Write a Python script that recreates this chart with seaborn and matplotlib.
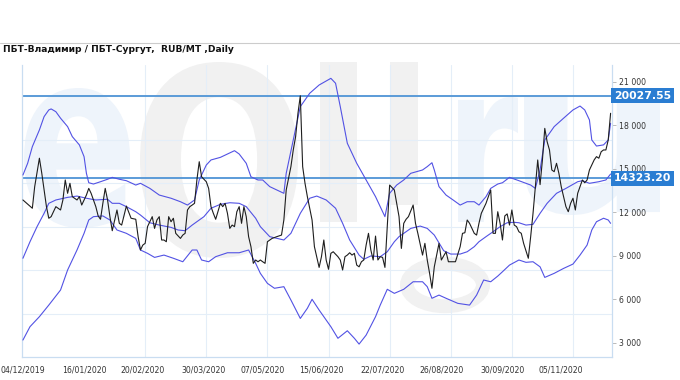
import matplotlib
matplotlib.use("Agg")
import matplotlib.pyplot as plt
import seaborn as sns
import pandas as pd
from matplotlib.ticker import FixedLocator, FuncFormatter
from matplotlib.textpath import TextPath
from matplotlib.patches import PathPatch, Rectangle, Circle
from matplotlib.font_manager import FontProperties
from matplotlib.transforms import Affine2D

# ------------------------------------------------------------------
# datos (día = índice de sesión)
# ------------------------------------------------------------------
TITLE = "ПБТ-Владимир / ПБТ-Сургут,  RUB/MT ,Daily"

price_day = [0, 2, 3, 4, 5, 7, 8, 10, 11, 12, 13, 14, 16, 17, 18, 19, 20, 21, 23, 24,
             25, 26, 27, 28, 29, 30, 31, 32, 33, 34, 35, 36, 37, 38, 40, 41, 42, 44, 46, 48,
             49, 50, 51, 52, 53, 55, 56, 57, 58, 59, 60, 61, 62, 63, 64, 65, 67, 68, 69, 70,
             71, 72, 73, 74, 75, 76, 78, 79, 80, 81, 82, 84, 85, 86, 87, 88, 89, 90, 91, 92,
             93, 94, 95, 96, 97, 98, 99, 100, 101, 102, 103, 104, 106, 108, 110, 111, 112, 114, 115, 116,
             117, 118, 119, 120, 121, 123, 124, 126, 127, 128, 129, 130, 131, 132, 134, 135, 136, 137, 138, 139,
             140, 141, 142, 143, 144, 145, 146, 147, 148, 149, 150, 151, 152, 153, 154, 155, 156, 158, 159, 160,
             161, 162, 163, 164, 166, 167, 168, 170, 171, 172, 173, 174, 175, 177, 178, 180, 181, 183, 184, 186,
             187, 188, 189, 190, 192, 193, 194, 195, 197, 198, 199, 200, 201, 202, 203, 204, 205, 206, 207, 208,
             209, 210, 211, 212, 213, 215, 216, 217, 218, 219, 220, 221, 222, 223, 224, 225, 226, 227, 228, 229,
             230, 231, 232, 233, 234, 235, 236, 237, 238, 239, 240, 241, 243, 244, 245, 246, 247, 248, 249, 250]
price_val = [12840, 12560, 12420, 12270, 13760, 15720, 14700, 12380, 11580, 11690, 12030, 12380, 12150, 12840, 14220, 13300, 13990, 13070, 12840, 13070,
             12490, 12840, 13180, 13640, 13300, 12840, 12380, 11740, 11510, 12610, 13640, 12840, 11690, 10720, 12150, 11230, 11110, 12420, 11580, 11510,
             10310, 9390, 9730, 9850, 11000, 11690, 10880, 11460, 11690, 10080, 10080, 9960, 11690, 11340, 11580, 10540, 10190, 10420, 10540, 12150,
             12380, 12490, 12610, 14220, 15480, 14440, 14100, 13640, 12380, 11920, 11510, 12610, 12380, 12610, 11920, 10880, 11110, 11000, 12030, 12380,
             11230, 12380, 11690, 10310, 9620, 8470, 8700, 8580, 8700, 8580, 8470, 9960, 10190, 10310, 10420, 11460, 13530, 15140, 16290, 17210,
             18820, 20027, 15140, 13990, 13070, 11460, 9620, 8190, 8930, 10080, 8700, 8060, 9160, 9270, 8930, 8700, 8010, 8930, 9040, 9200,
             9040, 9160, 8350, 8230, 8580, 8700, 9730, 10540, 9390, 8700, 10350, 8700, 8930, 8880, 8190, 11000, 13870, 13530, 12610, 11690,
             9500, 11230, 11510, 11690, 12490, 11230, 10540, 9040, 9850, 8700, 7780, 6750, 8230, 9850, 8700, 9270, 8580, 8580, 8580, 9620,
             10540, 10580, 11460, 11230, 10540, 10420, 11230, 11920, 12610, 13070, 13530, 10540, 10540, 12030, 11230, 10080, 11740, 11880, 11110, 12150,
             11110, 11000, 10650, 10540, 9850, 8820, 10310, 11920, 13760, 15600, 13900, 15600, 17780, 16860, 16290, 14910, 14790, 15370, 14680, 13760,
             13070, 12380, 12030, 12610, 12960, 12150, 13300, 13760, 14220, 14030, 14220, 14910, 15600, 15830, 15720, 16170, 16290, 16290, 16980, 18820]

upper_day = [0, 2, 4, 7, 9, 11, 12, 14, 16, 19, 21, 24, 26, 27, 28, 30, 33, 36, 38, 41,
             44, 48, 50, 54, 58, 63, 67, 70, 73, 75, 78, 80, 84, 87, 90, 92, 95, 97, 100, 102,
             105, 111, 112, 115, 118, 122, 126, 131, 133, 135, 138, 142, 146, 150, 152, 154, 156, 159, 162, 165,
             170, 172, 174, 175, 177, 180, 183, 186, 189, 192, 194, 197, 199, 202, 204, 207, 211, 216, 218, 220,
             222, 226, 230, 234, 237, 239, 241, 242, 244, 247, 249, 250]
upper_val = [14560, 15370, 16520, 17670, 18590, 19050, 19120, 18930, 18480, 17900, 17210, 16640, 15830, 14680, 14030, 13940, 14100, 14270, 14400, 14270,
             14170, 13870, 13990, 13640, 13180, 12960, 12720, 12490, 12840, 14220, 15250, 15600, 15780, 16010, 16240, 16010, 15370, 14440, 14220, 14220,
             13760, 13300, 14680, 16980, 19280, 20200, 20770, 21230, 20890, 19280, 16750, 15370, 14220, 13070, 12380, 11690, 13300, 13870, 14220, 14680,
             14910, 15140, 15410, 14910, 13760, 13180, 12840, 12490, 12720, 12720, 12490, 13070, 13640, 13940, 14030, 14400, 14170, 13870, 13640, 14910,
             16980, 17900, 18480, 19050, 19320, 19050, 18360, 16980, 16560, 16640, 16980, 18130]

mid_day = [0, 3, 6, 9, 11, 14, 19, 23, 27, 31, 36, 38, 41, 44, 48, 50, 54, 58, 63, 66,
           69, 72, 77, 80, 84, 88, 92, 95, 99, 101, 105, 111, 114, 118, 122, 125, 129, 133, 136, 139,
           143, 145, 148, 152, 155, 158, 160, 165, 169, 172, 175, 179, 182, 186, 189, 192, 194, 197, 200, 203,
           206, 209, 211, 214, 217, 220, 223, 227, 231, 236, 238, 241, 245, 248, 250]
mid_val = [8820, 9960, 11000, 11920, 12610, 12840, 13020, 13110, 12960, 12840, 12890, 12610, 12610, 12380, 12030, 11800, 11270, 11110, 10950, 10770,
           10720, 11110, 11690, 12270, 12540, 12650, 12610, 12380, 11580, 11000, 10310, 10080, 10540, 11920, 12960, 13110, 12840, 12270, 11230, 10080,
           9040, 8750, 8980, 8930, 9270, 9960, 10310, 10880, 11040, 10880, 10420, 9340, 9110, 9110, 9270, 9620, 9960, 10310, 10650, 11000,
           11270, 11300, 11270, 11110, 11160, 11920, 12610, 13300, 13640, 14100, 14170, 13990, 14100, 14220, 14630]

lower_day = [0, 3, 7, 11, 16, 19, 23, 26, 28, 30, 34, 37, 40, 44, 48, 50, 53, 56, 60, 64,
             68, 72, 74, 76, 79, 82, 87, 92, 96, 99, 101, 104, 107, 111, 114, 118, 121, 123, 126, 131,
             134, 138, 141, 143, 146, 150, 152, 155, 158, 162, 166, 170, 172, 174, 177, 180, 185, 190, 193, 196,
             199, 202, 204, 207, 211, 214, 217, 220, 222, 226, 230, 234, 237, 240, 242, 244, 247, 249, 250]
lower_val = [3180, 4100, 4790, 5590, 6630, 8010, 9390, 10540, 11460, 11690, 11740, 11460, 10770, 10540, 10190, 9390, 9160, 8880, 9040, 8820,
             8580, 9390, 9390, 8700, 8580, 8930, 9200, 9200, 9390, 8470, 7780, 7090, 6750, 6860, 5940, 4670, 5370, 5990, 5250, 4100,
             3300, 3820, 3300, 2900, 3520, 4790, 5590, 6680, 6400, 6680, 7200, 7200, 6860, 6060, 6280, 6060, 5710, 5590, 6280, 7320,
             7200, 7590, 7890, 8350, 8700, 8540, 8580, 8230, 7500, 7780, 8120, 8420, 9040, 9730, 10770, 11340, 11580, 11460, 11230]

level_high = 20027.55
level_low = 14323.20

tick_days = [0, 26, 51, 77, 102, 127, 153, 178, 204, 229]
tick_dates = ["04/12/2019", "16/01/2020", "20/02/2020", "30/03/2020", "07/05/2020",
              "15/06/2020", "22/07/2020", "26/08/2020", "30/09/2020", "05/11/2020"]
grid_days = [26, 52, 78, 104, 130, 156, 182, 208, 234]
y_ticks = [3000, 6000, 9000, 12000, 15000, 18000, 21000]
y_grid = [5000, 8000, 11000, 14000, 17000, 20000]

# ------------------------------------------------------------------
# estilo
# ------------------------------------------------------------------
COLOR_BAND = '#5252e4'
COLOR_PRICE = '#1e1e1e'
COLOR_LEVEL = '#5b9bd8'
COLOR_BOX = '#2a7dd2'
COLOR_GRID = '#e4eef8'
COLOR_AXIS = '#c9ddf1'
WM_BLUE = '#eef4fb'
WM_GREY = '#f1f1f1'

sns.set_theme(style="white")
plt.rcParams['font.family'] = ['DejaVu Sans']

W, H = 680, 380
fig = plt.figure(figsize=(6.8, 3.8), dpi=100)
ax = fig.add_axes([22 / W, 23 / H, 590 / W, 292 / H])
ax.patch.set_alpha(0)


# marca de agua "eOil.ru" (formas de fondo, en píxeles desde arriba-izquierda)
def marca(ch, x0, y0, x1, y1, color):
    tp = TextPath((0, 0), ch, size=1, prop=FontProperties(family='DejaVu Sans', weight='bold'))
    b = tp.get_extents()
    tr = (Affine2D().translate(-b.x0, -b.y0)
          .scale((x1 - x0) / b.width / W, (y1 - y0) / b.height / H)
          .translate(x0 / W, 1 - y1 / H) + fig.transFigure)
    fig.add_artist(PathPatch(tp, transform=tr, fc=color, ec='none', zorder=-1))


marca("e", 24, 88, 130, 228, WM_BLUE)
marca("O", 140, 62, 298, 258, WM_GREY)
fig.add_artist(Rectangle((320 / W, 1 - 222 / H), 37 / W, 160 / H, transform=fig.transFigure,
                         fc=WM_GREY, ec='none', zorder=-1))
fig.add_artist(Rectangle((390 / W, 1 - 205 / H), 28 / W, 143 / H, transform=fig.transFigure,
                         fc=WM_GREY, ec='none', zorder=-1))
fig.add_artist(Circle((445 / W, 1 - 285 / H), 38 / W, transform=fig.transFigure,
                      fc='none', ec=WM_GREY, lw=10, zorder=-1))
marca("r", 458, 97, 518, 222, WM_BLUE)
marca("u", 524, 97, 660, 215, WM_BLUE)

df_price = pd.DataFrame({'day': price_day, 'value': price_val})
df_up = pd.DataFrame({'day': upper_day, 'value': upper_val})
df_mid = pd.DataFrame({'day': mid_day, 'value': mid_val})
df_low = pd.DataFrame({'day': lower_day, 'value': lower_val})

for d in (df_up, df_mid, df_low):
    sns.lineplot(data=d, x='day', y='value', ax=ax, color=COLOR_BAND,
                 linewidth=0.8, zorder=3)
sns.lineplot(data=df_price, x='day', y='value', ax=ax, color=COLOR_PRICE,
             linewidth=0.8, zorder=4)

for lvl in (level_high, level_low):
    ax.axhline(lvl, color=COLOR_LEVEL, linewidth=1.4, zorder=2)
    ax.annotate(f"{lvl:.2f}", xy=(1.0, lvl), xycoords=('axes fraction', 'data'),
                xytext=(1.5, 0), textcoords='offset points',
                ha='left', va='center', fontsize=7.8, fontweight='bold', color='white',
                bbox=dict(boxstyle='square,pad=0.25', fc=COLOR_BOX, ec='none'),
                annotation_clip=False, zorder=6)

ax.set_xlim(-0.4, 250.6)
ax.set_ylim(2010, 22150)

ax.set_xticks(tick_days)
ax.set_xticklabels(tick_dates)
ax.xaxis.set_minor_locator(FixedLocator(grid_days))
ax.yaxis.tick_right()
ax.set_yticks(y_ticks)
ax.yaxis.set_major_formatter(FuncFormatter(lambda v, p: f"{int(v):,}".replace(",", " ")))
ax.yaxis.set_minor_locator(FixedLocator(y_grid))

ax.grid(False)
ax.grid(which='minor', color=COLOR_GRID, linewidth=0.8)
ax.set_axisbelow(True)

ax.tick_params(axis='x', which='major', length=0, labelsize=5.6, pad=6, colors='#333333')
ax.tick_params(axis='y', which='major', length=3, width=0.6, color='#b0b0b0',
               labelsize=5.6, pad=2, labelcolor='#333333', right=True, left=False)
ax.tick_params(which='minor', length=0)

ax.set_xlabel('')
ax.set_ylabel('')
for side in ('left', 'bottom', 'right'):
    ax.spines[side].set_color(COLOR_AXIS)
    ax.spines[side].set_linewidth(0.9)
ax.spines['top'].set_visible(False)

fig.text(3 / W, 1 - 50 / H, TITLE, fontsize=6.6, fontweight='bold',
         color='#111111', ha='left', va='center')
fig.add_artist(plt.Line2D([0, 1], [1 - 43 / H, 1 - 43 / H],
                          transform=fig.transFigure, color='#cccccc', linewidth=0.8))

fig.savefig('out.png', dpi=100)
